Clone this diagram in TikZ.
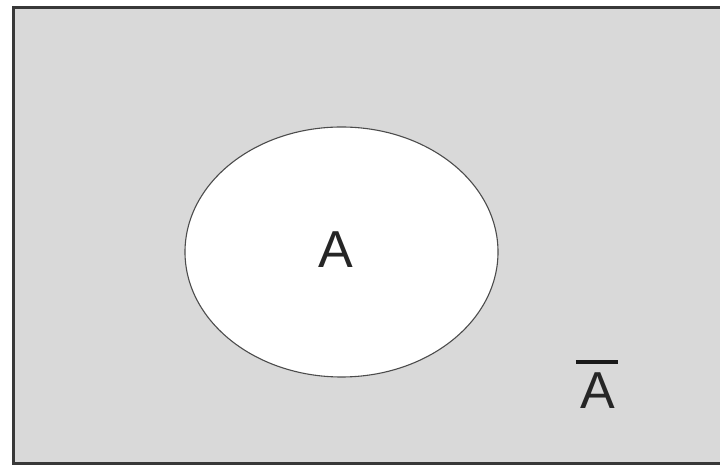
\documentclass[tikz,border=0pt]{standalone}
\usepackage{fontspec}
\setmainfont{Liberation Sans}
\usetikzlibrary{shapes.geometric}

\begin{document}
\begin{tikzpicture}[
  x=1pt, y=1pt,
  space/.style={draw=black!78, line width=3pt, fill=black!15, inner sep=0pt,
                minimum width=717pt, minimum height=456pt},
  setshape/.style={ellipse, draw=black!70, line width=1.1pt, fill=white,
                   inner sep=0pt, minimum width=313pt, minimum height=250pt},
  lbl/.style={inner sep=0pt, font=\fontsize{52}{60}\selectfont, text=black!85},
]
\useasboundingbox (0,0) rectangle (720,465);
% ---- sample space and set ----
\node[space] (universe) at (371.5,229.5) {};
\node[setshape] (setA) at (341.5,213) {};
% ---- labels ----
\node[lbl] (labelA) at (336,215.5) {A};
\node[lbl] (labelNotA) at (597.5,74) {A};
\draw[line width=4pt, black!90] ([xshift=-4pt, yshift=11pt]labelNotA.north west)
  -- ([xshift=3pt, yshift=11pt]labelNotA.north east);
\end{tikzpicture}
\end{document}
